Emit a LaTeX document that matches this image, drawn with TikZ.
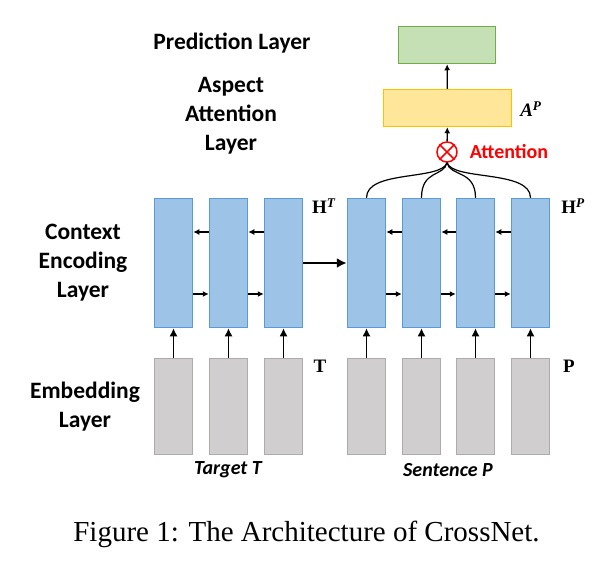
\documentclass[tikz,border=0pt]{standalone}
\usepackage{fontspec}
\setmainfont{Liberation Serif}
\setsansfont{Carlito}
\usetikzlibrary{arrows.meta}
\definecolor{encblue}{HTML}{9DC3E6}
\definecolor{encedge}{HTML}{5B9BD5}
\definecolor{embgray}{HTML}{D0CECE}
\definecolor{embedge}{HTML}{AFABAB}
\definecolor{predgreen}{HTML}{C5E0B4}
\definecolor{prededge}{HTML}{70AD47}
\definecolor{attyellow}{HTML}{FFE699}
\definecolor{attedge}{HTML}{FFC000}

\begin{document}
\begin{tikzpicture}[x=1pt, y=-1pt, >={Latex[length=8pt, width=8pt]},
        enc/.style={rectangle, draw=encedge, fill=encblue, line width=1.5pt, inner sep=0pt, minimum width=38pt, minimum height=129pt},
        emb/.style={rectangle, draw=embedge, fill=embgray, line width=1.5pt, inner sep=0pt, minimum width=38pt, minimum height=96pt},
        layer/.style={font=\sffamily\bfseries\fontsize{23.5}{29}\selectfont, align=center},
        mark label/.style={font=\bfseries\fontsize{19}{22}\selectfont},
        link/.style={->, line width=1.5pt},
        side/.style={-{Latex[length=6pt, width=6pt]}, line width=1.3pt}]
        \useasboundingbox (0,0) rectangle (599,576);

        % layer names
        \node[layer] (predname) at (232, 43) {Prediction Layer};
        \node[layer] (aspname) at (231, 116) {Aspect\\Attention\\Layer};
        \node[layer] (encname) at (83, 263) {Context\\Encoding\\Layer};
        \node[layer] (embname) at (85, 407) {Embedding\\Layer};

        % prediction and attention
        \node[rectangle, draw=prededge, fill=predgreen, line width=1.5pt, minimum width=97pt, minimum height=37pt] (pred) at (447, 45) {};
        \node[rectangle, draw=attedge, fill=attyellow, line width=1.5pt, minimum width=128pt, minimum height=37pt] (asp) at (447.5, 108) {};
        \node[circle, draw=red, line width=1.5pt, minimum size=20pt, inner sep=0pt] (att) at (447, 152) {};
        \draw[red, line width=1.5pt] (att.north west) -- (att.south east) (att.north east) -- (att.south west);
        \node[font=\sffamily\bfseries\fontsize{20}{24}\selectfont, text=red] (attname) at (509, 152) {Attention};
        \node[mark label] (ap) at (531, 109) {\textit{A}\textsuperscript{\textit{P}}};

        \draw[side] (att) -- (asp);
        \draw[side] (asp) -- (pred);

        % target side
        \node[enc] (t1) at (173.5, 263) {};
        \node[enc] (t2) at (228.5, 263) {};
        \node[enc] (t3) at (283.5, 263) {};
        \node[emb] (x1) at (173.5, 406.5) {};
        \node[emb] (x2) at (228.5, 406.5) {};
        \node[emb] (x3) at (283.5, 406.5) {};

        % sentence side
        \node[enc] (p1) at (366.5, 263) {};
        \node[enc] (p2) at (421.5, 263) {};
        \node[enc] (p3) at (475.5, 263) {};
        \node[enc] (p4) at (530.5, 263) {};
        \node[emb] (s1) at (366.5, 406.5) {};
        \node[emb] (s2) at (421.5, 406.5) {};
        \node[emb] (s3) at (475.5, 406.5) {};
        \node[emb] (s4) at (530.5, 406.5) {};

        \node[mark label] (ht) at (324, 206) {H\textsuperscript{\textit{T}}};
        \node[mark label] (hp) at (573, 206) {H\textsuperscript{\textit{P}}};
        \node[mark label] (tname) at (320, 366) {T};
        \node[mark label] (pname) at (569, 366) {P};
        \node[font=\sffamily\bfseries\itshape\fontsize{20}{24}\selectfont] (target) at (228, 470) {Target \textit{T}};
        \node[font=\sffamily\bfseries\itshape\fontsize{20}{24}\selectfont] (sentence) at (448, 470) {Sentence \textit{P}};

        % embedding to encoding
        \draw[link] (x1) -- (t1);
        \draw[link] (x2) -- (t2);
        \draw[link] (x3) -- (t3);
        \draw[link] (s1) -- (p1);
        \draw[link] (s2) -- (p2);
        \draw[link] (s3) -- (p3);
        \draw[link] (s4) -- (p4);

        % recurrent links
        \draw[side] ([yshift=31pt]t2.west) -- ([yshift=31pt]t1.east);
        \draw[side] ([yshift=31pt]t3.west) -- ([yshift=31pt]t2.east);
        \draw[side] ([yshift=-31pt]t1.east) -- ([yshift=-31pt]t2.west);
        \draw[side] ([yshift=-31pt]t2.east) -- ([yshift=-31pt]t3.west);
        \draw[side] ([yshift=31pt]p2.west) -- ([yshift=31pt]p1.east);
        \draw[side] ([yshift=31pt]p3.west) -- ([yshift=31pt]p2.east);
        \draw[side] ([yshift=31pt]p4.west) -- ([yshift=31pt]p3.east);
        \draw[side] ([yshift=-31pt]p1.east) -- ([yshift=-31pt]p2.west);
        \draw[side] ([yshift=-31pt]p2.east) -- ([yshift=-31pt]p3.west);
        \draw[side] ([yshift=-31pt]p3.east) -- ([yshift=-31pt]p4.west);
        \draw[-{Latex[length=10pt, width=10pt]}, line width=2pt] (t3) -- (p1);

        % attention links
        \draw[line width=1.2pt] (att.south) .. controls +(-6,18) and +(0,-28) .. (p1.north);
        \draw[line width=1.2pt] (att.south) .. controls +(-3,14) and +(0,-28) .. (p2.north);
        \draw[line width=1.2pt] (att.south) .. controls +(3,14) and +(0,-28) .. (p3.north);
        \draw[line width=1.2pt] (att.south) .. controls +(6,18) and +(0,-28) .. (p4.north);

        \node[font=\fontsize{29}{34}\selectfont, anchor=base] (caption) at (306.5, 541) {Figure 1: The Architecture of CrossNet.};
    \end{tikzpicture}
\end{document}
